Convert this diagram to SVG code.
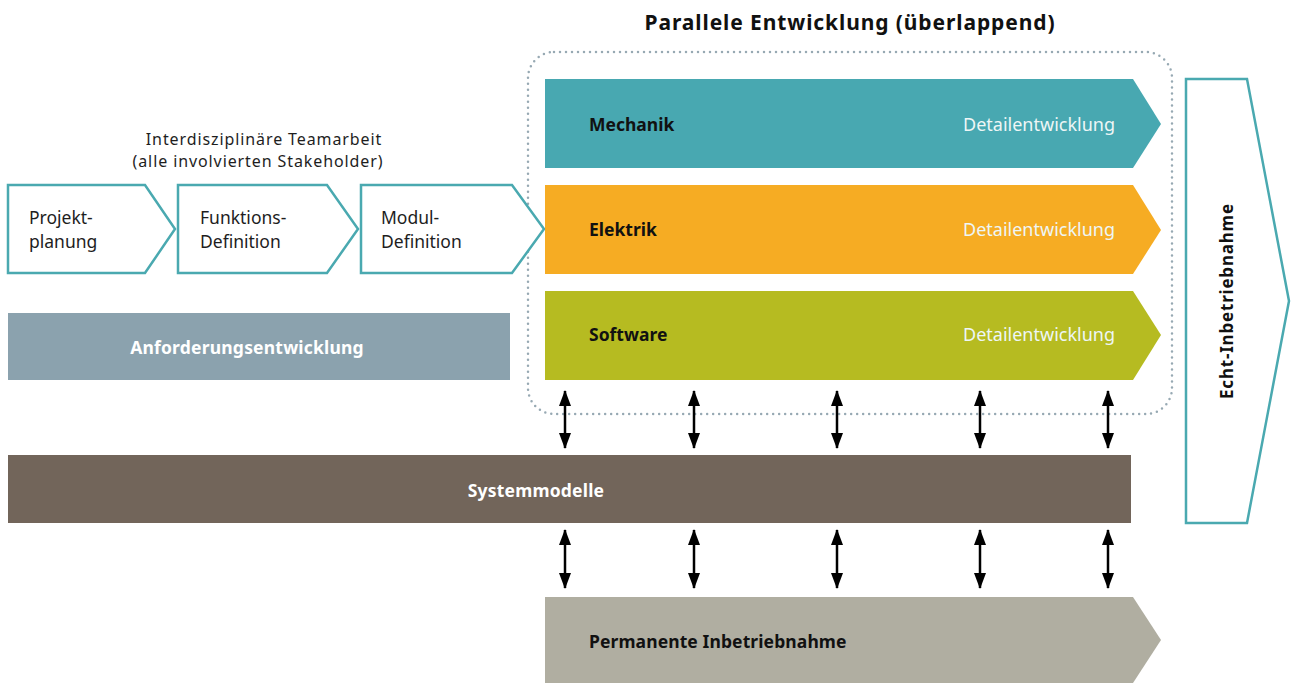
<svg xmlns="http://www.w3.org/2000/svg" width="1291" height="683" viewBox="0 0 1291 683">
  <style>
    text { font-family: "Noto Sans", "Open Sans", "DejaVu Sans", sans-serif; }
    .step { fill: #ffffff; stroke: #4aa9b0; stroke-width: 2.5; }
    .stepTxt { font-size: 17.5px; fill: #1e1e1e; }
    .lane { font-size: 17.5px; font-weight: bold; fill: #111111; }
    .detail { font-size: 18px; fill: #eef6f6; text-anchor: end; }
    .band { font-size: 17.5px; font-weight: bold; fill: #ffffff; text-anchor: middle; letter-spacing: 0.2px; }
    .note { font-size: 16px; fill: #1e1e1e; text-anchor: middle; letter-spacing: 0.9px; }
    .conn { stroke: #000000; stroke-width: 2.5; marker-start: url(#head); marker-end: url(#head); }
  </style>
  <defs>
    <marker id="head" viewBox="0 0 16 12" refX="15" refY="6" markerWidth="6.4" markerHeight="4.8" orient="auto-start-reverse" markerUnits="strokeWidth">
      <path d="M0,0 L16,6 L0,12 Z" fill="#000000"/>
    </marker>
  </defs>

  <rect width="1291" height="683" fill="#ffffff"/>

  <!-- headings -->
  <text x="850" y="30" font-size="21" font-weight="bold" text-anchor="middle" fill="#111111" letter-spacing="0.9">Parallele Entwicklung (überlappend)</text>
  <text class="note" x="264" y="145">Interdisziplinäre Teamarbeit</text>
  <text class="note" x="258" y="167">(alle involvierten Stakeholder)</text>

  <!-- parallel development frame -->
  <rect id="parallel-frame" x="528" y="52" width="644" height="362" rx="26" fill="none" stroke="#97a9b3" stroke-width="2.5" stroke-dasharray="0 6" stroke-linecap="round"/>

  <!-- upstream steps -->
  <g id="projektplanung">
    <polygon class="step" points="8,185 145,185 175,229 145,273 8,273"/>
    <text class="stepTxt" x="29" y="224">Projekt-</text>
    <text class="stepTxt" x="29" y="248">planung</text>
  </g>
  <g id="funktionsdefinition">
    <polygon class="step" points="178,185 327,185 358,229 327,273 178,273"/>
    <text class="stepTxt" x="200" y="224">Funktions-</text>
    <text class="stepTxt" x="200" y="248">Definition</text>
  </g>
  <g id="moduldefinition">
    <polygon class="step" points="361,185 512,185 544,229 512,273 361,273"/>
    <text class="stepTxt" x="381" y="224">Modul-</text>
    <text class="stepTxt" x="381" y="248">Definition</text>
  </g>

  <!-- discipline lanes -->
  <g id="mechanik">
    <polygon points="545,79 1133,79 1161,124 1133,168 545,168" fill="#48a8b1"/>
    <text class="lane" x="589" y="131">Mechanik</text>
    <text class="detail" x="1115" y="131">Detailentwicklung</text>
  </g>
  <g id="elektrik">
    <polygon points="545,185 1133,185 1161,230 1133,274 545,274" fill="#f6ac23"/>
    <text class="lane" x="589" y="236">Elektrik</text>
    <text class="detail" x="1115" y="236">Detailentwicklung</text>
  </g>
  <g id="software">
    <polygon points="545,291 1133,291 1161,335 1133,380 545,380" fill="#b6bb21"/>
    <text class="lane" x="589" y="341">Software</text>
    <text class="detail" x="1115" y="341">Detailentwicklung</text>
  </g>

  <!-- requirements -->
  <g id="anforderungsentwicklung">
    <rect x="8" y="313" width="502" height="67" fill="#8ba2ae"/>
    <text class="band" x="247" y="354">Anforderungsentwicklung</text>
  </g>

  <!-- system models -->
  <g id="systemmodelle">
    <rect x="8" y="455" width="1123" height="68" fill="#72655a"/>
    <text class="band" x="536" y="497">Systemmodelle</text>
  </g>

  <!-- permanent commissioning -->
  <g id="permanente-inbetriebnahme">
    <polygon points="545,597 1133,597 1161,640 1133,683 545,683" fill="#b0aea1"/>
    <text class="lane" x="589" y="648" letter-spacing="0.1">Permanente Inbetriebnahme</text>
  </g>

  <!-- final commissioning -->
  <g id="echt-inbetriebnahme">
    <polygon class="step" points="1186,79 1247,79 1289,301 1247,523 1186,523"/>
    <text x="1227" y="301" font-size="17" font-weight="bold" fill="#111111" text-anchor="middle" letter-spacing="0.8" transform="rotate(-90 1227 301)" dy="6">Echt-Inbetriebnahme</text>
  </g>

  <!-- exchange between lanes and system models -->
  <g id="connectors">
    <line class="conn" x1="565" y1="391" x2="565" y2="448"/>
    <line class="conn" x1="694" y1="391" x2="694" y2="448"/>
    <line class="conn" x1="837" y1="391" x2="837" y2="448"/>
    <line class="conn" x1="980" y1="391" x2="980" y2="448"/>
    <line class="conn" x1="1108" y1="391" x2="1108" y2="448"/>
    <line class="conn" x1="565" y1="530" x2="565" y2="588"/>
    <line class="conn" x1="694" y1="530" x2="694" y2="588"/>
    <line class="conn" x1="837" y1="530" x2="837" y2="588"/>
    <line class="conn" x1="980" y1="530" x2="980" y2="588"/>
    <line class="conn" x1="1108" y1="530" x2="1108" y2="588"/>
  </g>
</svg>
